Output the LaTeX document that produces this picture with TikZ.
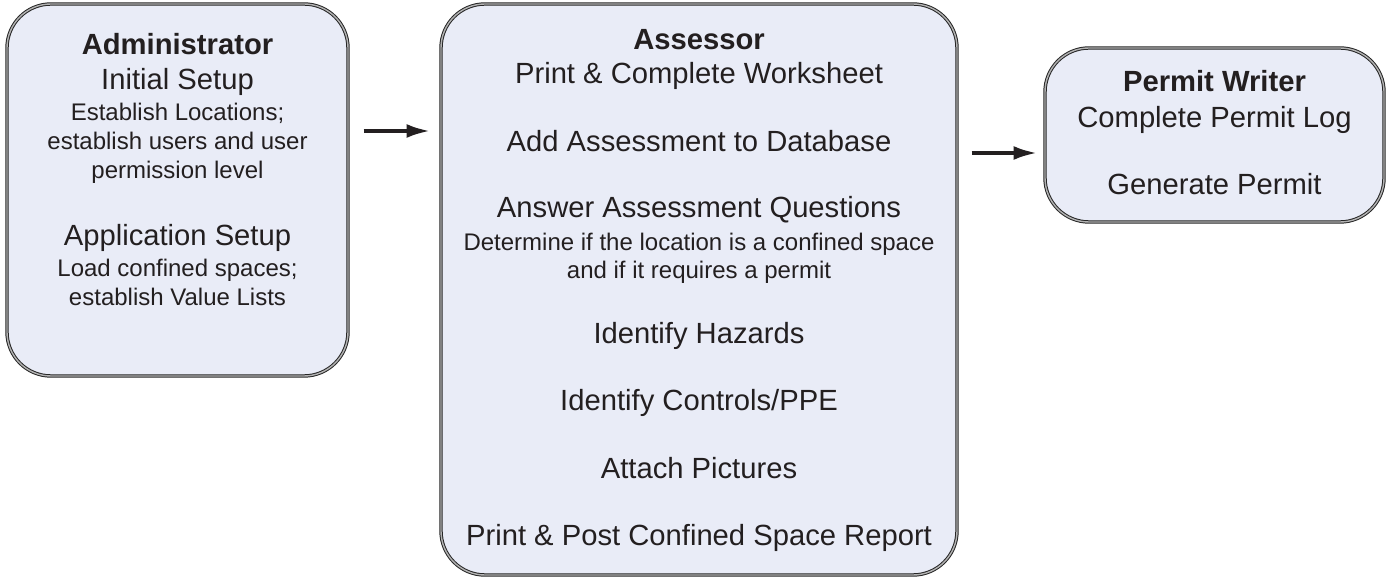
\documentclass[tikz,border=0pt]{standalone}
\usepackage{fontspec}
\setmainfont{Liberation Sans}
\usetikzlibrary{arrows.meta,positioning}
\definecolor{boxfill}{RGB}{233,236,247}
\definecolor{ink}{RGB}{35,31,32}
\tikzstyle{block} = [draw=black!85, double=gray!60, double distance=0.7pt,
    line width=0.5pt, fill=boxfill, rounded corners=22pt, rectangle]
\tikzstyle{head} = [font=\fontsize{14.6}{17}\selectfont\bfseries, text=ink, anchor=base]
\tikzstyle{task} = [font=\fontsize{14.6}{17}\selectfont, text=ink, anchor=base]
\tikzstyle{note} = [font=\fontsize{12}{14}\selectfont, text=ink, anchor=base]
\tikzstyle{flow} = [->, line width=2pt, draw=ink]

\begin{document}
\begin{tikzpicture}[auto, node distance=2cm, >={Latex[length=12pt,width=7pt]}]
    \useasboundingbox (-88.75pt,-193.5pt) rectangle (604.25pt,95pt);
    \node [block, minimum width=170.5pt, minimum height=186pt] (admin) {};
    \node [block, right of=admin, node distance=260.75pt, yshift=-49.75pt,
            minimum width=258pt, minimum height=285.5pt] (assessor) {};
    \node [block, right of=assessor, node distance=257.75pt, yshift=77.25pt,
            minimum width=169.5pt, minimum height=87pt] (writer) {};
    % administrator
    \node [head, below=25.5pt of admin.north, anchor=base] (adminhead) {Administrator};
    \node [task, below=17.7pt of adminhead.base, anchor=base] (initial) {Initial Setup};
    \node [note, below=15.5pt of initial.base, anchor=base] (locs) {Establish Locations;};
    \node [note, below=14.5pt of locs.base, anchor=base] (users) {establish users and user};
    \node [note, below=14.5pt of users.base, anchor=base] (level) {permission level};
    \node [task, below=33.3pt of level.base, anchor=base] (appsetup) {Application Setup};
    \node [note, below=15.5pt of appsetup.base, anchor=base] (spaces) {Load confined spaces;};
    \node [note, below=14.5pt of spaces.base, anchor=base] (lists) {establish Value Lists};
    % assessor
    \node [head, below=23pt of assessor.north, anchor=base] (assesshead) {Assessor};
    \node [task, below=17pt of assesshead.base, anchor=base] (worksheet) {Print \& Complete Worksheet};
    \node [task, below=34pt of worksheet.base, anchor=base] (database) {Add Assessment to Database};
    \node [task, below=33pt of database.base, anchor=base] (questions) {Answer Assessment Questions};
    \node [note, below=16.5pt of questions.base, anchor=base] (confined) {Determine if the location is a confined space};
    \node [note, below=14pt of confined.base, anchor=base] (permit) {and if it requires a permit};
    \node [task, below=32.5pt of permit.base, anchor=base] (hazards) {Identify Hazards};
    \node [task, below=33.5pt of hazards.base, anchor=base] (controls) {Identify Controls/PPE};
    \node [task, below=34pt of controls.base, anchor=base] (pictures) {Attach Pictures};
    \node [task, below=33.5pt of pictures.base, anchor=base] (report) {Print \& Post Confined Space Report};
    % permit writer
    \node [head, below=22pt of writer.north, anchor=base] (writerhead) {Permit Writer};
    \node [task, below=18pt of writerhead.base, anchor=base] (permitlog) {Complete Permit Log};
    \node [task, below=33.5pt of permitlog.base, anchor=base] (generate) {Generate Permit};
    % arrows
    \draw [flow, shorten <=7.5pt, shorten >=5pt] ([yshift=29.5pt]admin.east) -- ([yshift=29.5pt]admin.east -| assessor.west);
    \draw [flow, shorten <=7pt, shorten >=3.5pt] ([yshift=-9pt]writer.west -| assessor.east) -- ([yshift=-9pt]writer.west);
\end{tikzpicture}
\end{document}
